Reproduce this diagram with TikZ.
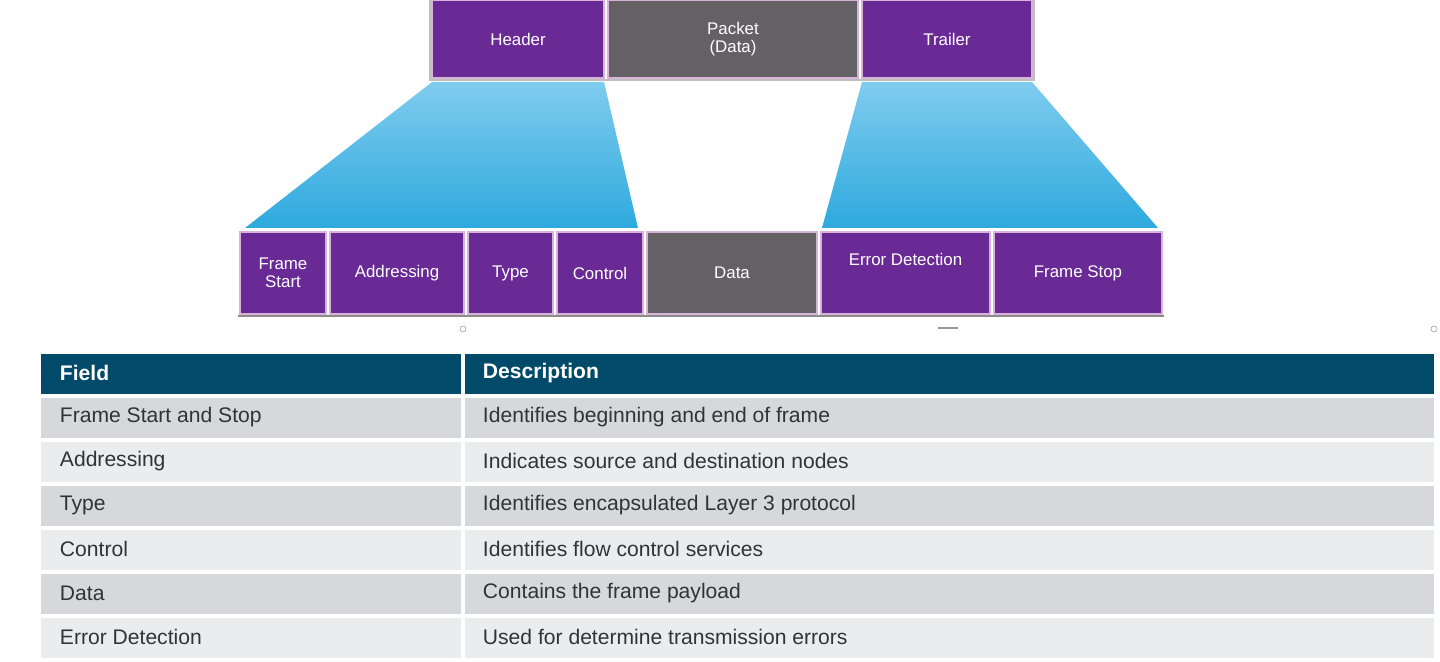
\documentclass[tikz,border=0pt]{standalone}
\usepackage{fontspec}
\setmainfont{Liberation Sans}
\definecolor{fpurple}{HTML}{6A2A96}
\definecolor{fgray}{HTML}{636163}
\definecolor{fblue}{HTML}{2EA9DE}
\definecolor{fblueL}{HTML}{7FCCEE}
\definecolor{thead}{HTML}{014A6A}
\definecolor{rowA}{HTML}{D6D8DB}
\definecolor{rowB}{HTML}{EBECEE}
\begin{document}
\begin{tikzpicture}[x=0.025cm,y=-0.025cm,
box/.style={draw=violet!30, line width=1.2pt, fill=fpurple, text=white,
   font=\fontsize{12}{13}\selectfont, align=center, inner sep=0pt},
gbox/.style={box, fill=fgray},
cell/.style={anchor=west, font=\fontsize{15}{16}\selectfont, text=black!80},
hcell/.style={anchor=west, font=\bfseries\fontsize{15}{16}\selectfont, text=white}]
    \useasboundingbox (0,0) rectangle (1440,662);
    % top frame
    \draw[black!25, line width=1pt] (430,-2) rectangle (1034,80);
    \path[box] (432,0) rectangle node (hdr) {Header} (604,78);
    \path[gbox] (608,0) rectangle node (pkt) {Packet\\(Data)} (858,78);
    \path[box] (862,0) rectangle node (trl) {Trailer} (1032,78);
    % expansion
    \shade[top color=fblueL, bottom color=fblue] (432,82) -- (604,82) -- (638,228) -- (245,228) -- cycle;
    \shade[top color=fblueL, bottom color=fblue] (862,82) -- (1032,82) -- (1158,228) -- (822,228) -- cycle;
    % bottom frame
    \draw[black!45, line width=1.5pt] (238,316) -- (1164,316);
    \foreach \xa/\xb/\nm/\txt/\st in {240/326/fs/{Frame\\Start}/box, 330/464/adr/Addressing/box,
        468/553/typ/Type/box, 557/643/ctl/Control/box, 647/817/dat/Data/gbox,
        821/990/err/{Error Detection\\[6pt]}/box, 994/1162/fst/Frame Stop/box}
        \path[\st] (\xa,232) rectangle node (\nm) {\txt} (\xb,314);
    \draw[black!40] (463,329) circle (3) (1434,329) circle (3);
    \draw[black!40, line width=1pt] (938,328) -- (958,328);
    % table
    \fill[thead] (41,354) rectangle (1434,394);
    \fill[white] (461,354) rectangle (465,662);
    \node[hcell] (fld) at (55,373) {Field};
    \node[hcell] (dsc) at (478,373) {Description};
    \foreach \i/\f/\d in {0/Frame Start and Stop/Identifies beginning and end of frame,
        1/Addressing/Indicates source and destination nodes,
        2/Type/Identifies encapsulated Layer 3 protocol,
        3/Control/Identifies flow control services,
        4/Data/Contains the frame payload,
        5/Error Detection/Used for determine transmission errors} {
        \pgfmathsetmacro{\ya}{398+44*\i}
        \pgfmathparse{mod(\i,2)==0 ? "rowA" : "rowB"}
        \edef\rc{\pgfmathresult}
        \fill[\rc] (41,\ya) rectangle (461,\ya+40);
        \fill[\rc] (465,\ya) rectangle (1434,\ya+40);
        \node[cell] (f\i) at (55,\ya+19) {\f};
        \node[cell] (d\i) at (478,\ya+19) {\d};
    }
\end{tikzpicture}
\end{document}
